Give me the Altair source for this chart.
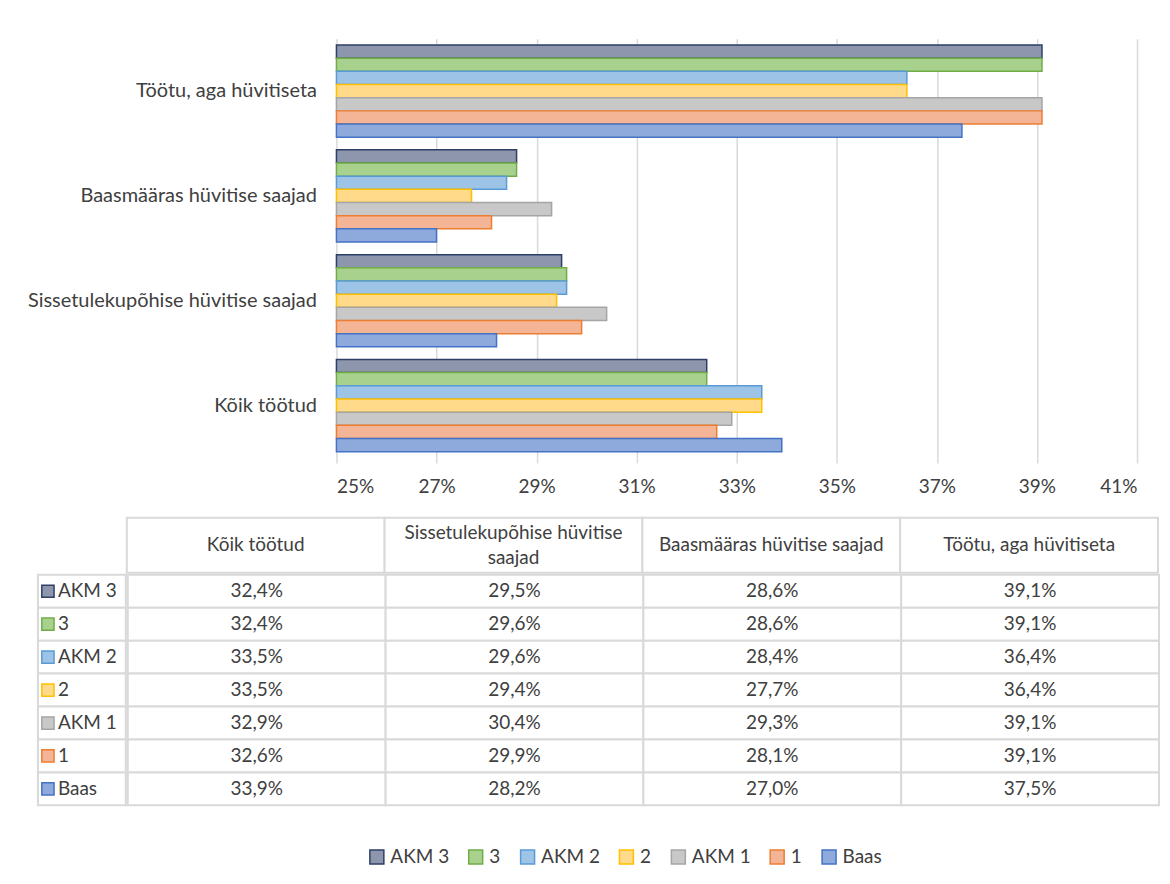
import altair as alt
import pandas as pd

# ---- data ----
categories = ["Kõik töötud", "Sissetulekupõhise hüvitise saajad",
              "Baasmääras hüvitise saajad", "Töötu, aga hüvitiseta"]
header_labels = ["Kõik töötud", "Sissetulekupõhise hüvitise\nsaajad",
                 "Baasmääras hüvitise saajad", "Töötu, aga hüvitiseta"]
series = ["AKM 3", "3", "AKM 2", "2", "AKM 1", "1", "Baas"]

akm3 = [32.4, 29.5, 28.6, 39.1]
s3 = [32.4, 29.6, 28.6, 39.1]
akm2 = [33.5, 29.6, 28.4, 36.4]
s2 = [33.5, 29.4, 27.7, 36.4]
akm1 = [32.9, 30.4, 29.3, 39.1]
s1 = [32.6, 29.9, 28.1, 39.1]
baas = [33.9, 28.2, 27.0, 37.5]
series_values = [akm3, s3, akm2, s2, akm1, s1, baas]

tick_values = [25, 27, 29, 31, 33, 35, 37, 39, 41]

fill_colors = ["#8E96AE", "#A9D18E", "#9DC3E6", "#FFDA8A", "#C8C8C8", "#F4B496", "#8EA9DB"]
stroke_colors = ["#2E3F66", "#70AD47", "#5B9BD5", "#FFC000", "#A5A5A5", "#ED7D31", "#4472C4"]

FONT = "Lato"
TXT = "#404040"
GRID = "#D9D9D9"
FS = 19

rows = []
for s, vals in zip(series, series_values):
    for c, v in zip(categories, vals):
        rows.append({"category": c, "series": s, "value": v,
                     "label": f"{v:.1f}".replace(".", ",") + "%"})
df = pd.DataFrame(rows)

leg = alt.Legend(orient="none", legendX=330, legendY=810, direction="horizontal",
                 title=None, symbolType="square", symbolSize=196, symbolStrokeWidth=1.5,
                 labelFontSize=FS, labelFont=FONT, labelColor=TXT, columnPadding=16,
                 labelOffset=4, padding=0, columns=7)
fill_scale = alt.Scale(domain=series, range=fill_colors)
stroke_scale = alt.Scale(domain=series, range=stroke_colors)
band0 = alt.Scale(paddingInner=0, paddingOuter=0)

# ---- bar chart ----
bar = alt.Chart(df).mark_bar(strokeWidth=1.5, opacity=1).encode(
    x=alt.X("value:Q",
            scale=alt.Scale(domain=[25, 41], zero=False, nice=False, clamp=True),
            axis=alt.Axis(values=tick_values, labelExpr="datum.value + '%'", title=None,
                          grid=True, gridColor=GRID, gridWidth=1.5, tickColor=GRID,
                          tickWidth=1.5, tickSize=5, domain=False, labelPadding=15,
                          labelFontSize=FS, labelFont=FONT, labelColor=TXT)),
    y=alt.Y("category:N", sort=categories[::-1],
            scale=alt.Scale(paddingInner=0.12, paddingOuter=0.06),
            axis=alt.Axis(title=None, ticks=False, domain=False, labelPadding=20,
                          labelLimit=400, labelFontSize=20, labelFont=FONT, labelColor=TXT)),
    yOffset=alt.YOffset("series:N", sort=series, scale=band0),
    fill=alt.Fill("series:N", scale=fill_scale, legend=leg),
    stroke=alt.Stroke("series:N", scale=stroke_scale, legend=leg),
).properties(width=802, height=420)

spacer_top = alt.Chart(pd.DataFrame({"a": [""]})).mark_rect(
    fillOpacity=0, strokeOpacity=0).encode(
    x=alt.X("a:N", axis=None, scale=band0)).properties(width=299, height=420)
top_row = alt.hconcat(spacer_top, bar, spacing=0, bounds="flush")

# ---- table header ----
hdr_df = pd.DataFrame({"category": categories, "header": header_labels,
                       "multi": ["\n" in h for h in header_labels]})
hdr_base = alt.Chart(hdr_df).encode(
    x=alt.X("category:N", sort=categories, axis=None, scale=band0))
hdr_rect = hdr_base.mark_rect(fill="white", stroke=GRID, strokeWidth=2)
hdr_text1 = hdr_base.mark_text(fontSize=FS, font=FONT, color=TXT).encode(
    text="header:N").transform_filter("!datum.multi")
hdr_text2 = hdr_base.mark_text(lineBreak="\n", lineHeight=25, dy=-12, fontSize=FS,
                               font=FONT, color=TXT).encode(
    text="header:N").transform_filter("datum.multi")
header = alt.layer(hdr_rect, hdr_text1, hdr_text2).properties(width=1033, height=55)
spacer_hdr = alt.Chart(pd.DataFrame({"a": [""]})).mark_rect(
    fill="white", stroke=GRID, strokeWidth=2, strokeOpacity=0, fillOpacity=0).encode(
    x=alt.X("a:N", axis=None, scale=band0)).properties(width=88, height=55)
header_row = alt.hconcat(spacer_hdr, header, spacing=0)

# ---- table body ----
body_base = alt.Chart(df).encode(
    x=alt.X("category:N", sort=categories, axis=None, scale=band0),
    y=alt.Y("series:N", sort=series, axis=None, scale=band0))
body_rect = body_base.mark_rect(fill="white", stroke=GRID, strokeWidth=2)
body_text = body_base.mark_text(fontSize=FS, font=FONT, color=TXT).encode(text="label:N")
body = alt.layer(body_rect, body_text).properties(width=1033, height=231)

lab_df = pd.DataFrame({"series": series})
lab_base = alt.Chart(lab_df).encode(
    y=alt.Y("series:N", sort=series, axis=None, scale=band0))
lab_rect = lab_base.mark_rect(fill="white", stroke=GRID, strokeWidth=2)
lab_sq = lab_base.mark_square(size=150, strokeWidth=1.5, opacity=1).encode(
    x=alt.value(10),
    fill=alt.Fill("series:N", scale=fill_scale, legend=leg),
    stroke=alt.Stroke("series:N", scale=stroke_scale, legend=leg))
lab_text = lab_base.mark_text(align="left", fontSize=FS, font=FONT, color=TXT).encode(
    x=alt.value(20), text="series:N")
labels = alt.layer(lab_rect, lab_sq, lab_text).properties(width=88, height=231)
body_row = alt.hconcat(labels, body, spacing=0)

table = alt.vconcat(header_row, body_row, spacing=0)

chart = alt.vconcat(top_row, table, spacing=480, bounds="flush").properties(
    padding={"left": 19, "top": 30, "right": 2, "bottom": 10},
    background="white",
).configure_view(strokeWidth=0)

chart.save("out.html", embed_options={"renderer": "svg", "actions": False})
